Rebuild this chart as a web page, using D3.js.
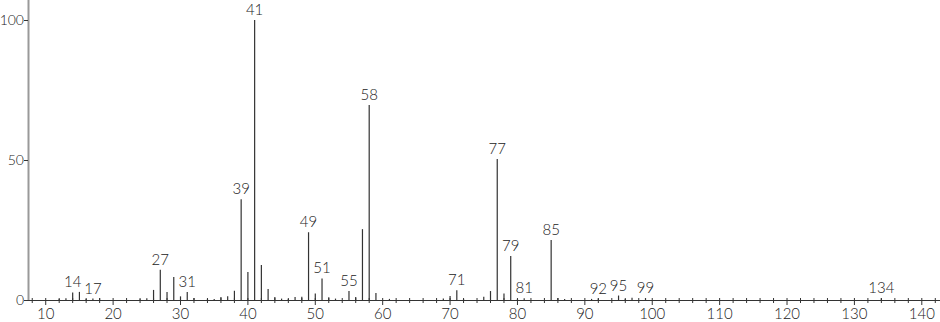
<!DOCTYPE html>
<html>
<head>
<meta charset="utf-8">
<script src="https://cdn.jsdelivr.net/npm/d3@7"></script>
<style>
  body { margin: 0; background: #fff; }
  svg text { font-family: Lato, "Open Sans", sans-serif; font-size: 15px; font-weight: 300; fill: #222; }
</style>
</head>
<body>
<svg id="chart" width="940" height="322"></svg>
<script>
// mass / relative intensity
const masses = [12, 13, 14, 15, 16, 17, 18, 24, 25, 26, 27, 28, 29, 30, 31, 32, 34, 35, 36, 37, 38,
                39, 40, 41, 42, 43, 44, 45, 46, 47, 48, 49, 50, 51, 52, 53, 55, 56, 57, 58, 59, 61,
                69, 70, 71, 72, 75, 76, 77, 78, 79, 80, 81, 85, 86, 87, 91, 92, 95, 96, 97, 99, 134]
const intensities = [0.4, 0.6, 2.7, 2.9, 0.4, 0.5, 0.6, 0.3, 0.6, 3.6, 10.8, 2.9, 8.2, 1.3, 2.9, 0.7, 0.3, 0.4, 1.1, 1.3, 3.3,
                     36, 10, 100, 12.5, 3.9, 1.1, 0.5, 0.4, 1.1, 1.2, 24.2, 2.3, 7.7, 1.0, 0.5, 3.2, 1.1, 25.3, 69.6, 2.5, 0.4,
                     0.5, 1.4, 3.5, 0.4, 1.2, 3.2, 50.4, 2.3, 15.7, 0.4, 0.6, 21.4, 0.7, 0.4, 0.4, 0.5, 1.6, 0.4, 0.8, 0.7, 0.6]
const labelled = [14, 17, 27, 31, 39, 41, 49, 51, 55, 58, 71, 77, 79, 81, 85, 92, 95, 99, 134]
const xTicks = [10, 20, 30, 40, 50, 60, 70, 80, 90, 100, 110, 120, 130, 140]
const yTicks = [0, 50, 100]

const peaks = masses.map((m, i) => ({ m: m, v: intensities[i] }))

const svg = d3.select('#chart')

const x = d3.scaleLinear().domain([7.37, 142.7]).range([28, 940])
const y = d3.scaleLinear().domain([0, 100]).range([300, 20])

// y axis
svg.append('line')
    .attr('x1', 28.5).attr('x2', 28.5)
    .attr('y1', 0).attr('y2', y(0))
    .style('stroke', '#999').style('stroke-width', 2)

svg.selectAll('.ytick')
    .data(yTicks)
    .enter().append('line')
    .attr('x1', 24).attr('x2', 28)
    .attr('y1', d => Math.round(y(d)) + 0.5).attr('y2', d => Math.round(y(d)) + 0.5)
    .style('stroke', '#333')

svg.selectAll('.ylab')
    .data(yTicks)
    .enter().append('text')
    .attr('x', 24).attr('y', d => y(d) + 5)
    .attr('text-anchor', 'end')
    .style('font-size', '14px')
    .text(d => d)

// x axis
svg.append('line')
    .attr('x1', 28).attr('x2', 940)
    .attr('y1', 300.5).attr('y2', 300.5)
    .style('stroke', '#333')

const minor = d3.range(8, 143, 2)
svg.selectAll('.minor')
    .data(minor)
    .enter().append('line')
    .attr('x1', d => x(d)).attr('x2', d => x(d))
    .attr('y1', 298).attr('y2', d => d % 10 == 0 ? 305 : 303)
    .style('stroke', '#333')

svg.selectAll('.xlab')
    .data(xTicks)
    .enter().append('text')
    .attr('x', d => x(d)).attr('y', 319)
    .attr('text-anchor', 'middle')
    .text(d => d)

// peaks
svg.selectAll('.peak')
    .data(peaks)
    .enter().append('line')
    .attr('x1', d => x(d.m)).attr('x2', d => x(d.m))
    .attr('y1', y(0)).attr('y2', d => y(d.v))
    .style('stroke', '#333').style('stroke-width', 1.2)

// peak labels
svg.selectAll('.plab')
    .data(peaks.filter(d => labelled.includes(d.m)))
    .enter().append('text')
    .attr('x', d => x(d.m)).attr('y', d => y(d.v) - 5)
    .attr('text-anchor', 'middle')
    .text(d => d.m)
</script>
</body>
</html>
